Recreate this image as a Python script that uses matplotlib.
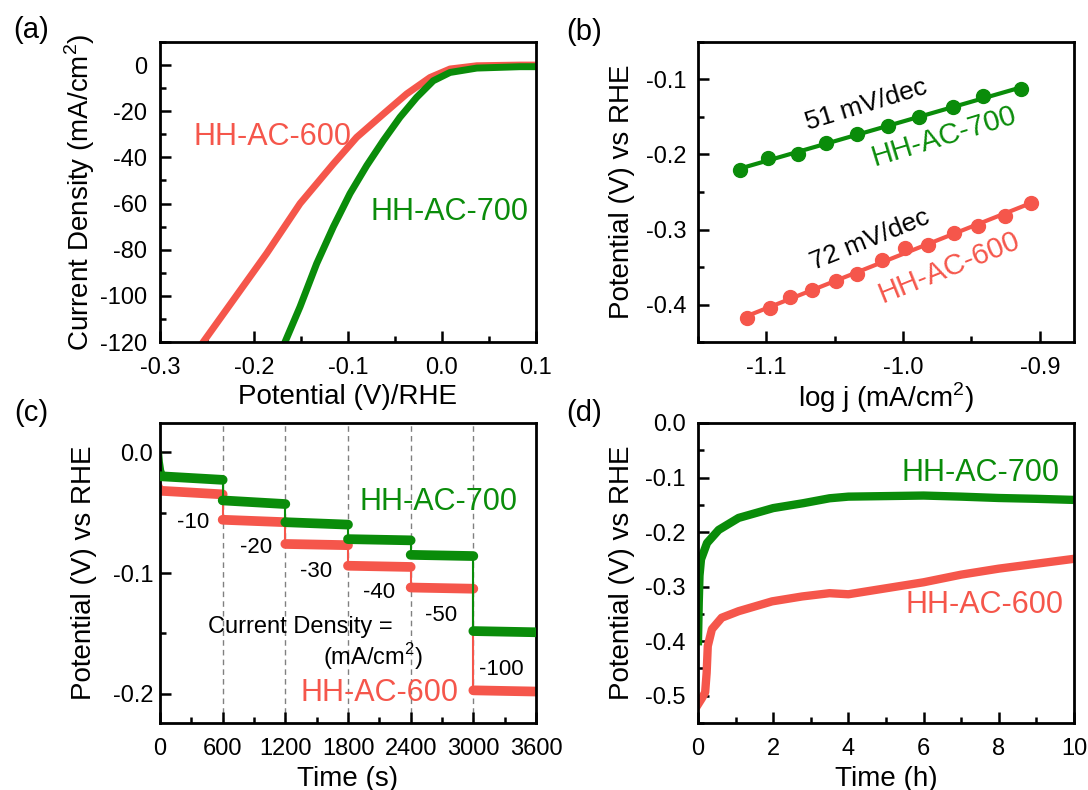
import matplotlib
matplotlib.use('Agg')
import matplotlib.pyplot as plt
from matplotlib.ticker import MultipleLocator, FuncFormatter
import numpy as np

plt.rcParams['font.family'] = ['Liberation Sans', 'DejaVu Sans']
plt.rcParams['mathtext.fontset'] = 'custom'
plt.rcParams['mathtext.rm'] = 'Liberation Sans'

GREEN = '#0a8c0a'
RED = '#f5564b'

# (a) LSV curves, potential (V) vs current density (mA/cm2)
lsv600_v = [0.10, 0.083, 0.037, 0.0085, -0.0128, -0.0376, -0.0624, -0.0908, -0.1156, -0.151, -0.1865, -0.222, -0.254, -0.262]
lsv600_j = [0.0, 0.0, -0.3, -1.7, -5.4, -12.5, -21.2, -31.3, -42.8, -60.0, -81.6, -101.8, -120.0, -125.0]
lsv700_v = [0.10, 0.083, 0.037, 0.0085, -0.0093, -0.027, -0.0447, -0.0624, -0.080, -0.0979, -0.1156, -0.1333, -0.151, -0.167, -0.172]
lsv700_j = [-0.7, -0.7, -1.3, -3.2, -6.8, -14.0, -22.6, -32.7, -43.5, -55.7, -70.1, -86.0, -104.7, -120.0, -125.0]

# (b) Tafel points
taf700_x = [-1.1195, -1.099, -1.077, -1.0565, -1.0334, -1.0114, -0.9886, -0.9633, -0.9418, -0.9139]
taf700_y = [-0.221, -0.205, -0.1996, -0.1844, -0.172, -0.1622, -0.1498, -0.1373, -0.1222, -0.1133]
taf600_x = [-1.1139, -1.0975, -1.0828, -1.0663, -1.0489, -1.0334, -1.0157, -0.9987, -0.9815, -0.9625, -0.9451, -0.9253, -0.9063]
taf600_y = [-0.4178, -0.4053, -0.3898, -0.3809, -0.3689, -0.3596, -0.340, -0.3244, -0.320, -0.304, -0.2951, -0.2822, -0.2644]

# (c) multi-step chronopotentiometry
step_edges = [0, 600, 1200, 1800, 2400, 3000, 3600]
step_labels = ['-10', '-20', '-30', '-40', '-50', '-100']
c700_start = [-0.020, -0.040, -0.058, -0.072, -0.085, -0.148]
c700_end = [-0.023, -0.043, -0.060, -0.073, -0.086, -0.149]
c600_start = [-0.032, -0.056, -0.076, -0.094, -0.112, -0.197]
c600_end = [-0.035, -0.058, -0.077, -0.095, -0.113, -0.198]
c700_init_t = [0, 8, 20, 40]
c700_init_v = [0.0, -0.008, -0.015, -0.020]
c600_init_t = [0, 15, 30]
c600_init_v = [-0.027, -0.030, -0.032]

# (d) long-term stability
d700_t = [0, 0.02, 0.04, 0.08, 0.24, 0.55, 1.08, 2.0, 2.8, 3.5, 4, 5, 6, 7, 8, 9, 10]
d700_v = [-0.40, -0.33, -0.28, -0.25, -0.22, -0.196, -0.174, -0.156, -0.147, -0.138, -0.135,
          -0.134, -0.133, -0.135, -0.1375, -0.139, -0.141]
d600_t = [0, 0.1, 0.19, 0.23, 0.26, 0.37, 0.63, 1.08, 1.97, 2.77, 3.5, 4, 5, 6, 7, 8, 9, 10]
d600_v = [-0.516, -0.505, -0.494, -0.458, -0.409, -0.378, -0.357, -0.345, -0.327, -0.318,
          -0.312, -0.314, -0.303, -0.292, -0.278, -0.267, -0.258, -0.249]

fig = plt.figure(figsize=(10.88, 7.90), dpi=100)
W, H = 1088.0, 790.0

def make_ax(l, t, r, b):
    return fig.add_axes([l / W, 1 - b / H, (r - l) / W, (b - t) / H])

def style(ax, ypad):
    for s in ax.spines.values():
        s.set_linewidth(2.0)
    ax.tick_params(which='both', direction='in', top=False, right=False, width=1.8, labelsize=17)
    ax.tick_params(which='major', length=8)
    ax.tick_params(which='minor', length=4.5)
    ax.tick_params(axis='x', which='both', pad=10.5)
    ax.tick_params(axis='y', which='both', pad=ypad)

def labels(ax, xl, yl, yx):
    ax.set_xlabel(xl, fontsize=20, va='center')
    ax.set_ylabel(yl, fontsize=20, va='center')
    ax.xaxis.set_label_coords(0.5, -0.185)
    ax.yaxis.set_label_coords(yx, 0.5)

fmt1 = FuncFormatter(lambda v, p: '%.1f' % v if abs(v) > 1e-9 else '0.0')

ax_a = make_ax(160, 42, 536, 342)
ax_b = make_ax(698, 42, 1074, 342)
ax_c = make_ax(160, 423, 536, 723)
ax_d = make_ax(698, 423, 1074, 723)

# ---- (a)
ax_a.plot(lsv600_v, lsv600_j, color=RED, lw=5, solid_joinstyle='round')
ax_a.plot(lsv700_v, lsv700_j, color=GREEN, lw=5, solid_joinstyle='round')
ax_a.set_xlim(-0.3, 0.1)
ax_a.set_ylim(-120, 10)
ax_a.xaxis.set_major_locator(MultipleLocator(0.1))
ax_a.xaxis.set_minor_locator(MultipleLocator(0.05))
ax_a.yaxis.set_major_locator(MultipleLocator(20))
ax_a.yaxis.set_minor_locator(MultipleLocator(10))
ax_a.xaxis.set_major_formatter(fmt1)
ax_a.yaxis.set_major_formatter(FuncFormatter(lambda v, p: '%d' % round(v)))
labels(ax_a, 'Potential (V)/RHE', 'Current Density (mA/cm$^2$)', -0.213)
ax_a.text(-0.180, -31, 'HH-AC-600', color=RED, fontsize=22, ha='center', va='center')
ax_a.text(0.008, -63.5, 'HH-AC-700', color=GREEN, fontsize=22, ha='center', va='center')
style(ax_a, 9.5)

# ---- (b)
for xs, ys, col in [(taf700_x, taf700_y, GREEN), (taf600_x, taf600_y, RED)]:
    k, b0 = np.polyfit(xs, ys, 1)
    ax_b.plot([xs[0], xs[-1]], [k * xs[0] + b0, k * xs[-1] + b0], color=col, lw=3)
    ax_b.plot(xs, ys, 'o', color=col, ms=10, mec=col)
ax_b.set_xlim(-1.15, -0.875)
ax_b.set_ylim(-0.45, -0.05)
ax_b.xaxis.set_major_locator(MultipleLocator(0.1))
ax_b.xaxis.set_minor_locator(MultipleLocator(0.05))
ax_b.yaxis.set_major_locator(MultipleLocator(0.1))
ax_b.yaxis.set_minor_locator(MultipleLocator(0.05))
ax_b.xaxis.set_major_formatter(fmt1)
ax_b.yaxis.set_major_formatter(fmt1)
labels(ax_b, 'log j (mA/cm$^2$)', 'Potential (V) vs RHE', -0.202)
ax_b.text(-1.027, -0.134, '51 mV/dec', fontsize=19, rotation=17, ha='center', va='center', rotation_mode='anchor')
ax_b.text(-0.970, -0.176, 'HH-AC-700', color=GREEN, fontsize=21, rotation=17, ha='center', va='center', rotation_mode='anchor')
ax_b.text(-1.024, -0.314, '72 mV/dec', fontsize=19, rotation=22, ha='center', va='center', rotation_mode='anchor')
ax_b.text(-0.966, -0.350, 'HH-AC-600', color=RED, fontsize=21, rotation=22, ha='center', va='center', rotation_mode='anchor')
style(ax_b, 8)

# ---- (c)
for e in step_edges[1:-1]:
    ax_c.axvline(e, color='gray', lw=1, ls=(0, (4, 3)), zorder=0)
ax_c.plot(c700_init_t, c700_init_v, color=GREEN, lw=3)
ax_c.plot(c600_init_t, c600_init_v, color=RED, lw=3)
for i in range(len(step_labels)):
    t0, t1 = step_edges[i], step_edges[i + 1]
    ax_c.plot([t0, t1], [c600_start[i], c600_end[i]], color=RED, lw=7, solid_capstyle='round', zorder=2)
    ax_c.plot([t0, t1], [c700_start[i], c700_end[i]], color=GREEN, lw=7, solid_capstyle='round', zorder=3)
    if i + 1 < len(step_labels):
        ax_c.plot([t1, t1], [c600_end[i], c600_start[i + 1]], color=RED, lw=1.5, zorder=2)
        ax_c.plot([t1, t1], [c700_end[i], c700_start[i + 1]], color=GREEN, lw=1.5, zorder=3)
lab_pos = [(320, -0.058), (920, -0.079), (1490, -0.099), (2100, -0.116), (2690, -0.135), (3270, -0.180)]
for s, (x, y) in zip(step_labels, lab_pos):
    ax_c.text(x, y, s, fontsize=16, ha='center', va='center')
ax_c.text(1340, -0.145, 'Current Density =', fontsize=17, ha='center', va='center')
ax_c.text(2040, -0.169, '(mA/cm$^2$)', fontsize=17, ha='center', va='center')
ax_c.text(2670, -0.041, 'HH-AC-700', color=GREEN, fontsize=22, ha='center', va='center')
ax_c.text(2100, -0.199, 'HH-AC-600', color=RED, fontsize=22, ha='center', va='center')
ax_c.set_xlim(0, 3600)
ax_c.set_ylim(-0.224, 0.024)
ax_c.xaxis.set_major_locator(MultipleLocator(600))
ax_c.xaxis.set_minor_locator(MultipleLocator(300))
ax_c.yaxis.set_major_locator(MultipleLocator(0.1))
ax_c.yaxis.set_minor_locator(MultipleLocator(0.05))
ax_c.yaxis.set_major_formatter(fmt1)
labels(ax_c, 'Time (s)', 'Potential (V) vs RHE', -0.203)
style(ax_c, 5)

# ---- (d)
ax_d.plot(d700_t, d700_v, color=GREEN, lw=6, solid_joinstyle='round')
ax_d.plot(d600_t, d600_v, color=RED, lw=6, solid_joinstyle='round')
ax_d.text(7.5, -0.092, 'HH-AC-700', color=GREEN, fontsize=22, ha='center', va='center')
ax_d.text(7.62, -0.333, 'HH-AC-600', color=RED, fontsize=22, ha='center', va='center')
ax_d.set_xlim(0, 10)
ax_d.set_ylim(-0.55, 0.0)
ax_d.xaxis.set_major_locator(MultipleLocator(2))
ax_d.xaxis.set_minor_locator(MultipleLocator(1))
ax_d.yaxis.set_major_locator(MultipleLocator(0.1))
ax_d.yaxis.set_minor_locator(MultipleLocator(0.05))
ax_d.yaxis.set_major_formatter(fmt1)
labels(ax_d, 'Time (h)', 'Potential (V) vs RHE', -0.202)
style(ax_d, 9)

for lab, x, y in [('(a)', 31, 30), ('(b)', 584, 32), ('(c)', 31, 413), ('(d)', 584, 413)]:
    fig.text(x / W, 1 - y / H, lab, fontsize=21, ha='center', va='center')

fig.savefig('out.png', dpi=100)
